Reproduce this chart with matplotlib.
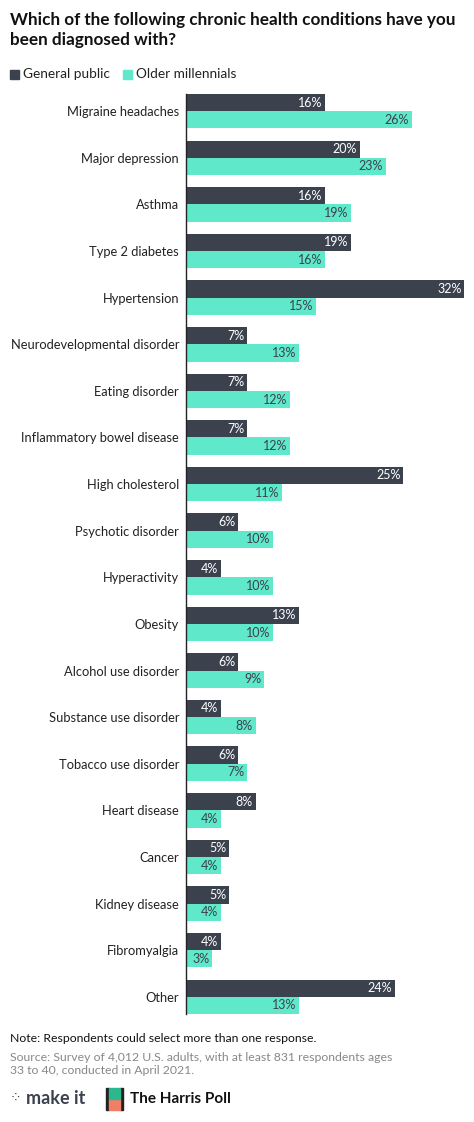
import numpy as np
import matplotlib.pyplot as plt
from matplotlib.patches import Rectangle

categories = ["Migraine headaches", "Major depression", "Asthma", "Type 2 diabetes",
              "Hypertension", "Neurodevelopmental disorder", "Eating disorder",
              "Inflammatory bowel disease", "High cholesterol", "Psychotic disorder",
              "Hyperactivity", "Obesity", "Alcohol use disorder", "Substance use disorder",
              "Tobacco use disorder", "Heart disease", "Cancer", "Kidney disease",
              "Fibromyalgia", "Other"]
general = [16, 20, 16, 19, 32, 7, 7, 7, 25, 6, 4, 13, 6, 4, 6, 8, 5, 5, 4, 24]
older = [26, 23, 19, 16, 15, 13, 12, 12, 11, 10, 10, 10, 9, 8, 7, 4, 4, 4, 3, 13]

DARK = "#3b424e"
TEAL = "#5fe8c9"

plt.rcParams['font.family'] = ['Lato', 'DejaVu Sans']
fig = plt.figure(figsize=(4.74, 11.22), dpi=100)
ax = fig.add_axes([186/474, 1 - 1014/1122, (464-186)/474, (1014-94)/1122])

n = len(categories)
y = np.arange(n)
h = 0.37
ax.barh(y - h/2, general, height=h, color=DARK)
ax.barh(y + h/2, older, height=h, color=TEAL)
for i in range(n):
    ax.text(general[i] - 0.3, y[i] - h/2, f"{general[i]}%", ha='right', va='center',
            color='white', fontsize=9)
    ax.text(older[i] - 0.3, y[i] + h/2, f"{older[i]}%", ha='right', va='center',
            color=DARK, fontsize=9)
ax.set_xlim(0, 32)
ax.set_ylim(n - 1 + h, -h)
ax.set_yticks(y)
ax.set_yticklabels(categories, fontsize=9.3, color='#222222')
ax.tick_params(axis='y', length=0, pad=5)
ax.set_xticks([])
for s in ['top', 'right', 'bottom']:
    ax.spines[s].set_visible(False)
ax.spines['left'].set_color('#222222')
ax.spines['left'].set_linewidth(1)

fig.text(10/474, 1 - 30/1122, "Which of the following chronic health conditions have you\nbeen diagnosed with?",
         fontsize=12.3, fontweight='bold', va='center', ha='left', linespacing=1.3, color='#111111')
# legend
fig.patches.append(Rectangle((10/474, 1 - 79/1122), 9/474, 9/1122, transform=fig.transFigure, color=DARK))
fig.text(23/474, 1 - 74.5/1122, "General public", fontsize=9.8, va='center', color='#222222')
fig.patches.append(Rectangle((123/474, 1 - 79/1122), 9/474, 9/1122, transform=fig.transFigure, color=TEAL))
fig.text(136/474, 1 - 74.5/1122, "Older millennials", fontsize=9.8, va='center', color='#222222')

fig.text(10/474, 1 - 1039/1122, "Note: Respondents could select more than one response.",
         fontsize=8.8, va='center', color='#111111')
fig.text(10/474, 1 - 1064/1122, "Source: Survey of 4,012 U.S. adults, with at least 831 respondents ages\n33 to 40, conducted in April 2021.",
         fontsize=8.8, va='center', color='#888888', linespacing=1.3)

fig.text(10/474, 1 - 1099/1122, "\u2058", fontsize=10, va='center', color=DARK)
fig.text(26/474, 1 - 1098/1122, "make it", fontsize=13, fontweight='bold', va='center', color=DARK)
fig.patches.append(Rectangle((106/474, 1 - 1110/1122), 3/474, 22/1122, transform=fig.transFigure, color='#222222'))
fig.patches.append(Rectangle((120/474, 1 - 1110/1122), 3/474, 22/1122, transform=fig.transFigure, color='#222222'))
fig.patches.append(Rectangle((109/474, 1 - 1110/1122), 11/474, 11/1122, transform=fig.transFigure, color='#f07f65'))
fig.patches.append(Rectangle((109/474, 1 - 1099/1122), 11/474, 11/1122, transform=fig.transFigure, color='#2bb88f'))
fig.text(130/474, 1 - 1099/1122, "The Harris Poll", fontsize=11, fontweight='bold', va='center', color='#111111')

fig.savefig("out.png", dpi=100, facecolor='white')
